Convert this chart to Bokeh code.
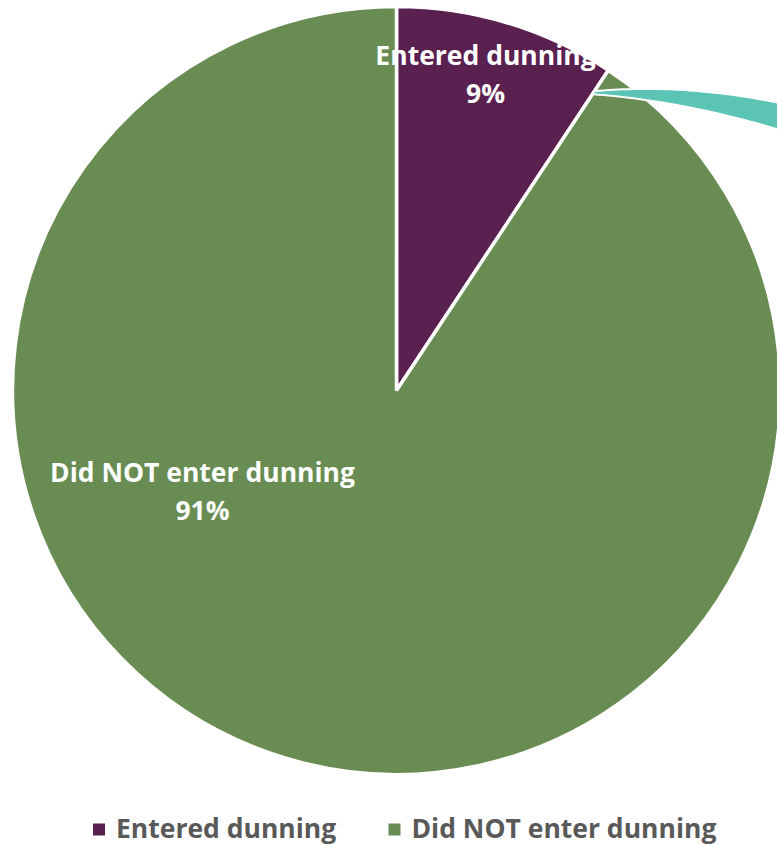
import numpy as np
from bokeh.plotting import figure
from bokeh.models import ColumnDataSource, Range1d
from bokeh.core.properties import value
from bokeh.embed import file_html
from bokeh.resources import INLINE

# ---- data ----
categories = ["Entered dunning", "Did NOT enter dunning"]
shares = [9.3, 90.7]
colors = ["#5A2150", "#688C52"]
accent_color = "#5CC4B4"

W, H = 777, 844
FONT = "Open Sans"
FS = "26.5px"


def Y(py):
    return H - py


p = figure(width=W, height=H, output_backend="svg", toolbar_location=None,
           x_range=Range1d(0, W), y_range=Range1d(0, H), min_border=0)
p.axis.visible = False
p.grid.visible = False
p.outline_line_color = None
p.background_fill_color = "white"

cx, cy, R = 396, Y(390), 384

fr = np.array(shares) / sum(shares)
ends = np.pi / 2 - np.concatenate([[0], np.cumsum(fr)[:-1]]) * 2 * np.pi
starts = ends - fr * 2 * np.pi
src = ColumnDataSource(dict(cat=categories, start=starts, end=ends, color=colors))
p.wedge(x=cx, y=cy, radius=R, start_angle="start", end_angle="end",
        fill_color="color", line_color="white", line_width=3.5, source=src)

# teal connector band (decorative, from the boundary of the first slice)
ang = ends[0] - fr[0] * 2 * np.pi
tip_r = 357
tx, ty = cx + tip_r * np.cos(ang), cy + tip_r * np.sin(ang)
t = np.linspace(0, 1, 40)[:, None]


def qbez(p0, p1, p2):
    p0, p1, p2 = map(np.array, (p0, p1, p2))
    return (1 - t) ** 2 * p0 + 2 * (1 - t) * t * p1 + t ** 2 * p2


upper = qbez((tx, ty + 1.5), (tx + 98, ty + 10), (tx + 198, ty - 13))
lower = qbez((tx + 198, ty - 41), (tx + 98, ty - 9), (tx, ty - 1.5))
band = np.vstack([upper, lower])
p.patch(band[:, 0], band[:, 1], fill_color=accent_color, line_color="white", line_width=2)

# slice labels
lab_x = [485, 202]
lab_y = [54, 471]
pct_y = [92, 509]
pct_txt = [f"{round(s)}%" for s in shares]
p.text(x=lab_x, y=[Y(v) for v in lab_y], text=categories, text_color="white",
       text_font=value(FONT), text_font_style="bold", text_font_size=FS,
       text_align="center", text_baseline="middle")
p.text(x=lab_x, y=[Y(v) for v in pct_y], text=pct_txt, text_color="white",
       text_font=value(FONT), text_font_style="bold", text_font_size=FS,
       text_align="center", text_baseline="middle")

# legend
leg_x = [98.5, 394]
leg_y = Y(829)
p.scatter(x=leg_x, y=[leg_y] * 2, marker="square", size=12, fill_color=colors, line_color=None)
p.text(x=[x + 17 for x in leg_x], y=[Y(827)] * 2, text=categories, text_color="#595959",
       text_font=value(FONT), text_font_style="bold", text_font_size=FS,
       text_align="left", text_baseline="middle")

open("out.html", "w").write(file_html(p, INLINE))
